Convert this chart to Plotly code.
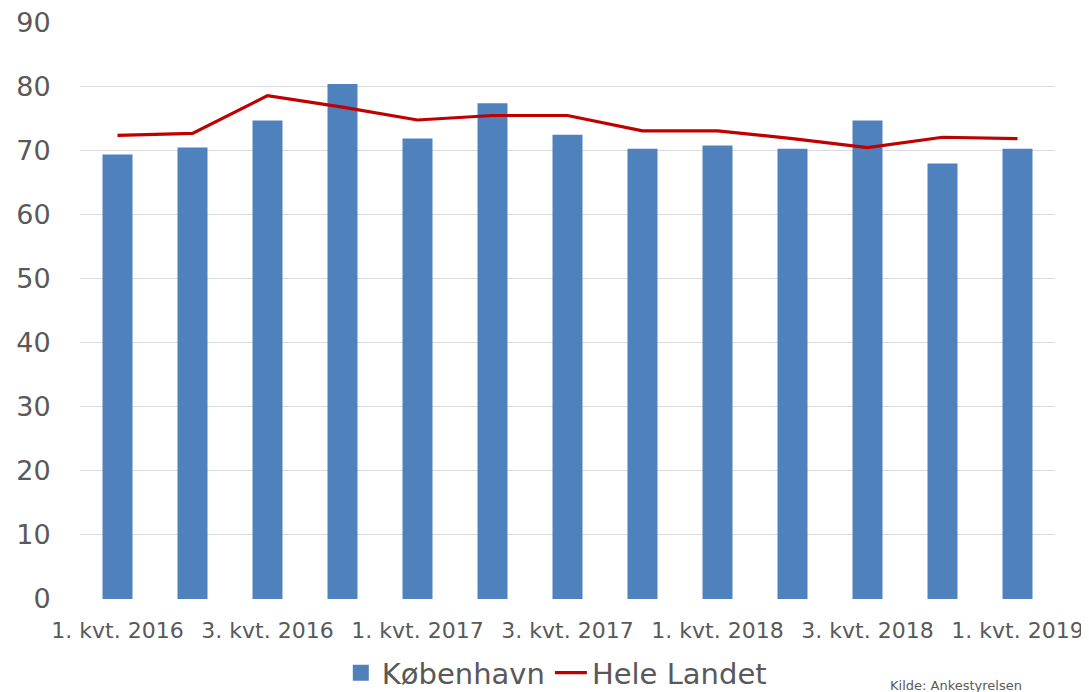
import plotly.graph_objects as go

categories = ["1. kvt. 2016", "2. kvt. 2016", "3. kvt. 2016", "4. kvt. 2016",
              "1. kvt. 2017", "2. kvt. 2017", "3. kvt. 2017", "4. kvt. 2017",
              "1. kvt. 2018", "2. kvt. 2018", "3. kvt. 2018", "4. kvt. 2018",
              "1. kvt. 2019"]
kobenhavn = [69.4, 70.5, 74.7, 80.4, 71.9, 77.4, 72.5, 70.3, 70.8, 70.3, 74.7, 68.0, 70.3]
hele_landet = [72.4, 72.7, 78.6, 76.8, 74.8, 75.5, 75.5, 73.1, 73.1, 71.9, 70.5, 72.1, 71.9]
tick_labels = categories[::2]
y_ticks = list(range(0, 91, 10))

FONT = "DejaVu Sans"
GREY = "#595959"
BLUE = "#4f81bd"

fig = go.Figure()
fig.add_trace(go.Bar(x=categories, y=kobenhavn, name="København", showlegend=False,
                     marker=dict(color=BLUE, line=dict(width=0))))
# legend entry with larger square symbol
fig.add_trace(go.Scatter(x=[None], y=[None], name="København", mode="markers",
                         marker=dict(symbol="square", size=22, color=BLUE)))
fig.add_trace(go.Scatter(x=categories, y=hele_landet, name="Hele Landet", mode="lines",
                         line=dict(color="#c00000", width=3.2)))

# page body has an 8px margin, so the figure is offset by 8px
fig.update_layout(
    width=1081, height=684,
    margin=dict(l=72, r=34, t=14, b=93, autoexpand=False),
    plot_bgcolor="white", paper_bgcolor="white",
    bargap=0.6,
    font=dict(family=FONT, color=GREY),
    showlegend=True,
    legend=dict(orientation="h", x=0.488, xanchor="center", y=-0.128, yanchor="middle",
                font=dict(size=29, color=GREY, family=FONT), itemwidth=32,
                traceorder="normal"),
    xaxis=dict(type="category", tickmode="array", tickvals=tick_labels, ticktext=tick_labels,
               tickfont=dict(size=22, color=GREY), ticks="outside", ticklen=12,
               tickcolor="rgba(0,0,0,0)", showgrid=False, showline=False, zeroline=False,
               automargin=False, ticklabeloverflow="allow"),
    yaxis=dict(range=[0, 90.1], tickvals=y_ticks, tickfont=dict(size=27, color=GREY),
               showgrid=True, gridcolor="#d9d9d9", gridwidth=1, zeroline=False,
               showline=False, ticks="outside", ticklen=23, tickcolor="rgba(0,0,0,0)",
               automargin=False, ticklabeloverflow="allow"),
    annotations=[dict(text="Kilde: Ankestyrelsen", xref="paper", yref="paper",
                      x=0.829, y=-0.133, xanchor="left", yanchor="top", showarrow=False,
                      font=dict(size=13, color=GREY, family=FONT))],
)

fig.write_html("out.html")
